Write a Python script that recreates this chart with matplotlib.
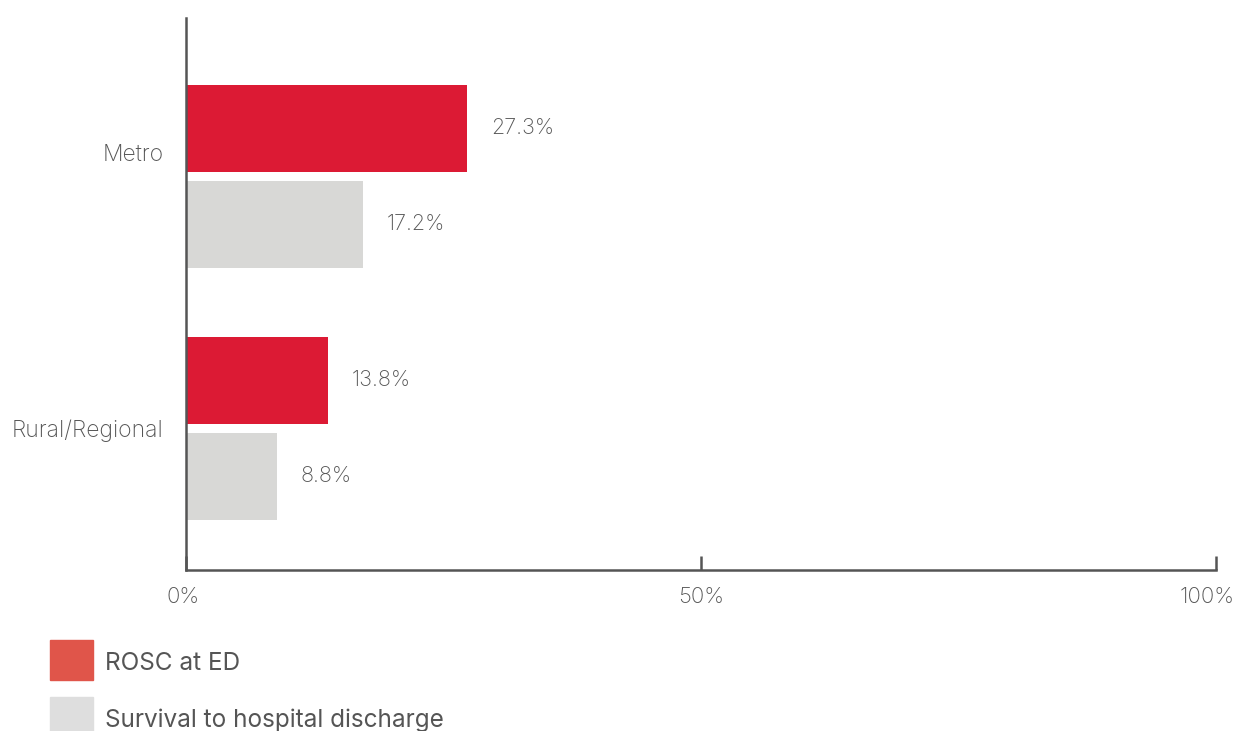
import matplotlib
matplotlib.use("Agg")
import matplotlib.pyplot as plt
import matplotlib.transforms as mtransforms
from matplotlib.patches import Rectangle
import numpy as np

categories = ["Metro", "Rural/Regional"]
series_names = ["ROSC at ED", "Survival to hospital discharge"]
rosc = [27.3, 13.8]
survival = [17.2, 8.8]
x_ticks = [0, 50, 100]
x_tick_labels = ["0%", "50%", "100%"]

bar_colors = ["#DC1A34", "#D8D8D6"]
legend_colors = ["#E0554A", "#DEDEDE"]
text_color = "#555555"
axis_color = "#555555"

plt.rcParams['font.family'] = ['Inter', 'DejaVu Sans']
WEIGHT = "light"

W, H = 1241, 731
fig = plt.figure(figsize=(W / 100, H / 100), dpi=100)
ax = fig.add_axes([186 / W, (H - 570) / H, (1216 - 186) / W, (570 - 18) / H])

group_pos = np.arange(len(categories))
bar_h = 87 / 252
offset = 96 / 252 / 2
series = [rosc, survival]
for i, vals in enumerate(series):
    ypos = group_pos + (-offset if i == 0 else offset)
    bars = ax.barh(ypos, vals, height=bar_h, color=bar_colors[i], zorder=1)
    for b, v in zip(bars, vals):
        ax.annotate(f"{v}%", (b.get_width(), b.get_y() + b.get_height() / 2),
                    xytext=(17, 0), textcoords="offset points",
                    va="center", ha="left", fontsize=15.5, color=text_color,
                    fontweight=WEIGHT)

ax.set_xlim(0, 100)
ax.set_ylim((570 - 176.5) / 252, (18 - 176.5) / 252)

label_shift = [-24.5 / 252, 0]
ax.set_yticks(group_pos + np.array(label_shift))
ax.set_yticklabels(categories, fontsize=16.5, color=text_color, fontweight=WEIGHT)
ax.tick_params(axis='y', length=0, pad=16)

ax.set_xticks(x_ticks)
ax.set_xticklabels(x_tick_labels, fontsize=16, color=text_color, fontweight=WEIGHT)
ax.tick_params(axis='x', direction='in', length=10, width=1.8, color=axis_color, pad=12)
# shift last tick label slightly left so it stays inside the figure
lbls = ax.get_xticklabels()
lbls[-1].set_transform(lbls[-1].get_transform() +
                       mtransforms.ScaledTranslation(-9 / 100, 0, fig.dpi_scale_trans))
lbls[0].set_transform(lbls[0].get_transform() +
                      mtransforms.ScaledTranslation(-3 / 100, 0, fig.dpi_scale_trans))

for s in ["top", "right"]:
    ax.spines[s].set_visible(False)
for s in ["left", "bottom"]:
    ax.spines[s].set_color(axis_color)
    ax.spines[s].set_linewidth(1.8)
    ax.spines[s].set_zorder(3)

# legend
leg_y = [640, 697]
for name, col, yy in zip(series_names, legend_colors, leg_y):
    fig.patches.append(Rectangle((50 / W, (H - yy - 40) / H), 43 / W, 40 / H,
                                 transform=fig.transFigure, color=col))
    fig.text(105 / W, (H - yy - 23) / H, name, fontsize=17.5, color=text_color,
             va="center", ha="left")

fig.savefig("out.png", dpi=100)
